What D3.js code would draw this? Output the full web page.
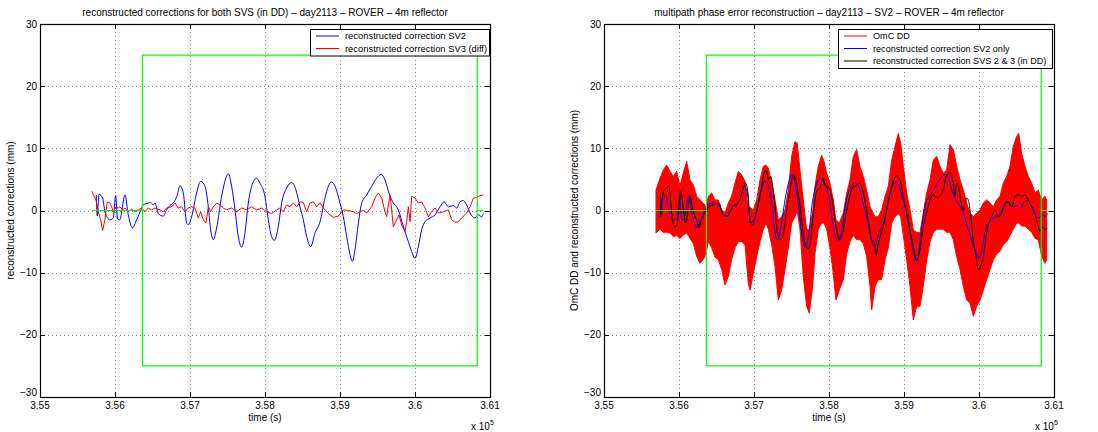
<!DOCTYPE html>
<html><head><meta charset="utf-8">
<script src="https://cdn.jsdelivr.net/npm/d3@7"></script>
<style>
body{margin:0;background:#fff;}
text{font-family:"Liberation Sans",Arial,Helvetica,sans-serif;font-size:10px;fill:#000;}
</style>
</head><body>
<svg id="c" width="1098" height="432"></svg>
<script>
// ---------- tick labels ----------
const xTicks = [355000, 356000, 357000, 358000, 359000, 360000, 361000];
const xTickLabels = ["3.55", "3.56", "3.57", "3.58", "3.59", "3.6", "3.61"];
const yTicks = [-30, -20, -10, 0, 10, 20, 30];
const yTickLabels = ["\u221230", "\u221220", "\u221210", "0", "10", "20", "30"];

// ---------- titles / labels ----------
const titles = ["reconstructed corrections for both SVS (in DD) \u2013 day2113 \u2013 ROVER \u2013 4m reflector",
                "multipath phase error reconstruction \u2013 day2113 \u2013 SV2 \u2013 ROVER \u2013 4m reflector"];
const yLabels = ["reconstructed corrections (mm)", "OmC DD and reconstructed corrections (mm)"];
const xLabel = "time (s)";
const legendLeft = ["reconstructed correction SV2", "reconstructed correction SV3 (diff)"];
const legendRight = ["OmC DD", "reconstructed correction SV2 only", "reconstructed correction SVS 2 & 3 (in DD)"];

// ---------- series: [time (s), value (mm)] ----------
const sv2 = [[355750,2.5],[355764,-0.9],[355786,2.6],[355835,2.0],[355866,-0.2],[355933,-1.5],[355977,-1.2],[356009,2.4],[356035,-1.4],[356066,-1.5],[356097,0.4],[356133,2.5],[356177,-0.7],[356235,-2.8],[356288,-1.5],[356346,0.1],[356377,0.9],[356444,1.2],[356475,1.3],[356511,0.9],[356533,1.2],[356577,-0.5],[356644,-0.9],[356688,0.1],[356733,0.8],[356777,1.2],[356831,2.5],[356866,4.0],[356911,2.8],[356955,-2.0],[356977,-2.3],[357022,-1.0],[357088,2.8],[357142,4.7],[357200,3.9],[357244,0.6],[357275,-3.1],[357311,-4.7],[357355,-2.8],[357422,2.3],[357466,4.7],[357511,5.9],[357555,3.9],[357600,0.1],[357644,-4.2],[357688,-5.9],[357733,-3.6],[357777,1.2],[357822,3.9],[357888,5.2],[357933,4.4],[357999,2.3],[358044,-1.5],[358088,-4.2],[358124,-4.8],[358177,-2.6],[358222,1.2],[358288,3.6],[358355,4.5],[358413,3.3],[358466,0.6],[358511,-1.5],[358556,-4.2],[358609,-5.8],[358667,-3.6],[358734,-1.8],[358800,2.0],[358845,3.9],[358889,4.6],[358934,3.9],[359000,1.2],[359045,-1.0],[359089,-4.2],[359134,-7.1],[359165,-8.2],[359200,-6.3],[359245,-2.0],[359289,1.2],[359356,2.5],[359422,3.9],[359489,5.2],[359547,5.8],[359600,4.9],[359645,3.1],[359702,1.4],[359778,0.1],[359845,-2.6],[359911,-5.0],[359956,-6.6],[360000,-7.7],[360045,-5.8],[360089,-3.1],[360134,-1.8],[360200,-1.2],[360267,-0.7],[360334,0.6],[360387,1.4],[360445,0.6],[360511,0.8],[360556,0.4],[360600,1.4],[360645,1.6],[360689,0.9],[360734,-0.4],[360800,-1.2],[360845,-0.7],[360889,-1.0],[360911,-0.5]];

const sv3 = [[355693,3.1],[355720,2.3],[355746,1.7],[355777,-0.2],[355809,-1.5],[355835,-3.2],[355866,-1.5],[355897,1.4],[355933,1.2],[355955,0.6],[355977,-0.2],[356013,0.6],[356044,0.4],[356066,0.6],[356102,0.1],[356133,0.4],[356177,-0.2],[356222,0.2],[356266,-0.2],[356311,0.1],[356355,0.4],[356400,-0.2],[356444,0.4],[356488,0.1],[356533,0.4],[356600,0.1],[356644,-0.2],[356688,0.4],[356755,0.6],[356800,1.2],[356844,0.4],[356888,0.6],[356933,-0.2],[356977,0.4],[357022,0.6],[357066,0.4],[357111,-1.2],[357142,-0.2],[357177,-1.5],[357213,-2.0],[357244,0.6],[357275,-0.2],[357311,0.6],[357355,1.2],[357400,0.9],[357444,0.4],[357488,0.1],[357555,0.4],[357622,-0.2],[357688,0.4],[357755,0.1],[357822,0.6],[357888,0.1],[357955,0.4],[358022,-0.2],[358088,-0.5],[358155,0.1],[358199,0.4],[358244,-0.2],[358288,0.9],[358333,0.6],[358377,1.2],[358422,0.6],[358466,1.4],[358511,1.3],[358556,-0.2],[358600,1.2],[358645,1.4],[358689,0.6],[358734,1.2],[358778,0.4],[358845,-0.5],[358911,-1.1],[358978,-0.9],[359045,0.1],[359111,0.0],[359178,-0.2],[359222,-0.5],[359267,-0.2],[359311,0.0],[359356,-0.4],[359422,0.6],[359467,2.0],[359511,2.8],[359556,2.0],[359600,-0.2],[359622,-1.0],[359645,0.9],[359667,2.5],[359689,0.1],[359711,-2.6],[359756,-1.5],[359787,-0.7],[359822,-2.3],[359867,-3.4],[359889,-1.8],[359911,0.6],[359934,-1.8],[359956,2.3],[360000,2.0],[360045,1.2],[360089,1.4],[360134,0.4],[360178,-1.0],[360222,-0.2],[360267,0.4],[360311,-0.4],[360378,-0.2],[360445,0.1],[360489,-1.5],[360534,-1.9],[360578,-1.8],[360622,-1.2],[360689,-0.4],[360734,0.6],[360778,2.0],[360822,2.1],[360867,2.4],[360911,2.5]];

const combined = [[355746,-1.0],[355800,3.3],[355835,3.6],[355857,4.0],[355880,2.8],[355902,-0.4],[355924,-2.3],[355960,-2.6],[355991,-1.0],[356022,3.3],[356044,1.7],[356071,-1.0],[356093,-2.0],[356115,-0.4],[356146,2.3],[356177,0.6],[356213,-1.0],[356235,-1.5],[356266,-2.8],[356302,-1.5],[356333,-0.7],[356368,0.1],[356413,0.8],[356457,0.9],[356502,1.2],[356546,0.6],[356591,-0.7],[356635,-1.0],[356680,-0.3],[356724,0.8],[356768,0.9],[356813,1.8],[356857,3.6],[356888,4.4],[356924,2.3],[356947,-2.0],[357014,-1.0],[357058,1.2],[357103,3.9],[357147,6.4],[357169,6.3],[357191,4.9],[357223,5.5],[357249,3.9],[357280,0.6],[357311,-3.6],[357347,-4.7],[357383,-4.2],[357436,0.1],[357480,3.3],[357525,5.7],[357560,4.9],[357591,2.5],[357622,0.1],[357658,-3.6],[357694,-5.8],[357725,-6.1],[357756,-4.7],[357791,-0.4],[357836,3.1],[357880,3.6],[357916,5.2],[357960,3.9],[358005,3.6],[358049,1.2],[358094,-2.6],[358138,-4.7],[358182,-3.6],[358236,0.1],[358280,2.5],[358324,3.8],[358369,4.0],[358404,4.4],[358449,3.3],[358493,0.6],[358538,-2.6],[358569,-4.7],[358600,-5.0],[358627,-7.1],[358658,-5.3],[358689,-3.9],[358724,-2.6],[358769,0.1],[358813,2.8],[358858,4.7],[358902,5.6],[358947,4.9],[358991,2.3],[359035,-0.4],[359080,-3.1],[359124,-5.8],[359169,-8.0],[359213,-6.3],[359258,-2.6],[359302,-0.4],[359347,1.7],[359391,2.5],[359436,2.0],[359480,2.3],[359524,3.3],[359569,5.7],[359613,6.1],[359657,4.4],[359680,2.3],[359702,4.4],[359724,3.9],[359746,2.3],[359791,0.1],[359835,2.0],[359857,1.7],[359880,0.1],[359924,-4.7],[359960,-7.4],[359991,-9.5],[360022,-9.0],[360057,-7.4],[360102,-3.6],[360146,-1.5],[360182,-0.7],[360213,0.1],[360257,-1.0],[360302,-0.4],[360346,1.2],[360391,1.4],[360435,0.6],[360480,2.3],[360524,2.5],[360568,2.3],[360613,2.5],[360657,1.7],[360702,0.6],[360746,-0.4],[360791,-2.6],[360813,-3.4],[360848,-2.6],[360880,-3.1],[360911,-2.8]];

// OmC DD (noisy): [time, upper envelope, lower envelope]
const omc = [[355693,3.3,-3.6],[355747,5.2,-3.0],[355791,6.5,-3.5],[355836,7.3,-3.5],[355880,6.3,-3.6],[355924,5.5,-4.2],[355969,6.3,-4.0],[356013,3.9,-4.5],[356057,6.0,-3.9],[356102,7.9,-3.6],[356124,6.5,-4.0],[356147,4.9,-4.5],[356191,4.1,-5.3],[356236,2.3,-7.4],[356280,1.7,-8.5],[356324,1.2,-7.9],[356360,0.6,-6.9],[356391,2.3,-5.0],[356436,2.8,-6.0],[356480,1.7,-7.5],[356524,1.7,-7.9],[356569,0.1,-9.5],[356613,-0.4,-12.0],[356657,1.2,-10.6],[356702,2.3,-7.9],[356747,4.4,-6.0],[356791,6.3,-5.0],[356836,5.7,-5.0],[356880,4.7,-5.5],[356924,0.1,-11.7],[356947,0.5,-12.8],[356991,0.1,-10.1],[357036,1.7,-7.4],[357080,4.9,-5.0],[357124,7.1,-3.0],[357160,7.3,-2.0],[357191,6.8,-3.0],[357236,4.4,-5.5],[357280,1.7,-9.0],[357324,-1.5,-14.4],[357369,-1.0,-12.8],[357413,0.1,-9.5],[357457,3.3,-6.0],[357502,8.7,-2.0],[357547,11.1,-1.0],[357577,10.8,0.0],[357613,6.5,-3.0],[357657,1.7,-10.6],[357702,-3.1,-15.4],[357737,-3.0,-16.5],[357782,-0.4,-12.2],[357813,3.9,-7.0],[357857,7.1,-3.0],[357902,8.9,-2.0],[357933,7.9,-2.0],[357969,6.0,-3.0],[358013,4.4,-6.0],[358057,1.7,-10.1],[358093,-1.5,-14.4],[358137,-2.0,-12.8],[358191,-0.4,-11.1],[358236,2.8,-6.9],[358280,4.9,-5.0],[358324,8.7,-4.0],[358369,9.8,-4.7],[358413,7.1,-4.7],[358457,5.5,-5.3],[358502,3.3,-7.4],[358547,0.6,-12.2],[358569,0.1,-16.0],[358613,-1.0,-12.2],[358657,-1.0,-11.1],[358702,0.1,-11.1],[358747,2.3,-7.9],[358791,3.9,-6.0],[358836,8.1,-2.0],[358880,10.3,-1.0],[358924,12.4,-0.5],[358956,10.8,-1.0],[358991,7.1,-4.0],[359036,2.8,-8.0],[359080,0.1,-12.2],[359124,-3.1,-17.6],[359169,-3.5,-15.4],[359213,-3.6,-15.4],[359257,-0.4,-12.2],[359302,2.8,-8.0],[359347,4.9,-5.0],[359391,8.1,-3.5],[359436,8.7,-3.0],[359480,7.1,-3.0],[359524,6.0,-3.0],[359569,6.5,-3.5],[359613,10.6,-3.5],[359658,9.8,-4.7],[359702,7.1,-7.4],[359747,4.9,-9.5],[359791,3.3,-12.2],[359836,1.2,-14.4],[359880,-0.4,-14.9],[359924,-1.0,-17.0],[359969,-0.4,-15.4],[360013,0.1,-14.4],[360057,1.2,-12.8],[360102,1.7,-11.1],[360147,1.2,-9.5],[360191,0.6,-7.9],[360236,1.7,-7.0],[360280,2.3,-6.5],[360324,4.4,-5.5],[360369,5.5,-5.0],[360413,7.1,-4.0],[360457,10.3,-3.0],[360502,11.9,-2.0],[360529,12.4,-2.0],[360569,9.2,-2.5],[360613,7.1,-2.5],[360657,5.5,-3.0],[360702,4.4,-3.5],[360747,2.8,-4.5],[360791,3.3,-4.7],[360836,1.7,-7.4],[360880,2.3,-8.5],[360902,1.7,-7.9]];

// green reference window (zero line outside, +-25 mm box inside)
const refWindow = [[355693,0],[356365,0],[356365,25],[360830,25],[360830,0],[360911,0],[360830,0],[360830,-25],[356365,-25],[356365,0]];

// ---------- drawing ----------
const svg = d3.select("#c");
const TOP = 24, BOT = 397;
const panels = [{L: 40, R: 490}, {L: 604, R: 1054}];

function drawFrame(p, idx) {
  const g = svg.append("g");
  const x = d3.scaleLinear().domain([355000, 361000]).range([p.L, p.R]);
  const y = d3.scaleLinear().domain([-30, 30]).range([BOT, TOP]);
  g.selectAll(".gx").data(xTicks.slice(1, -1)).enter().append("line")
    .attr("x1", d => Math.round(x(d)) + 0.5).attr("x2", d => Math.round(x(d)) + 0.5)
    .attr("y1", TOP).attr("y2", BOT)
    .attr("stroke", "#8a8a8a").attr("stroke-width", 1).attr("stroke-dasharray", "1,3");
  g.selectAll(".gy").data(yTicks.slice(1, -1)).enter().append("line")
    .attr("y1", d => Math.round(y(d)) + 0.5).attr("y2", d => Math.round(y(d)) + 0.5)
    .attr("x1", p.L).attr("x2", p.R)
    .attr("stroke", "#8a8a8a").attr("stroke-width", 1).attr("stroke-dasharray", "1,3");
  g.selectAll(".xl").data(xTicks).enter().append("text")
    .attr("x", d => x(d)).attr("y", BOT + 11.5).attr("text-anchor", "middle")
    .text((d, i) => xTickLabels[i]);
  g.selectAll(".yl").data(yTicks).enter().append("text")
    .attr("x", p.L - 3).attr("y", d => y(d) + 3.5 - (d === -30 ? 5 : 0)).attr("text-anchor", "end")
    .text((d, i) => yTickLabels[i]);
  g.append("text").attr("x", (p.L + p.R) / 2).attr("y", 16).attr("text-anchor", "middle").text(titles[idx]);
  g.append("text").attr("x", (p.L + p.R) / 2).attr("y", 420.5).attr("text-anchor", "middle").text(xLabel);
  g.append("text").attr("transform", `translate(${p.L - 26},${(TOP + BOT) / 2}) rotate(-90)`)
    .attr("text-anchor", "middle").text(yLabels[idx]);
  const ex = g.append("text").attr("x", p.R - 19).attr("y", 429.5);
  ex.append("tspan").text("x 10");
  ex.append("tspan").attr("dy", -5).attr("font-size", "7px").text("5");
  return {g, x, y};
}

function drawBox(g, x, y, p) {
  const tl = 5;
  const tk = g.append("g").attr("stroke", "#000").attr("stroke-width", 1);
  xTicks.forEach(t => {
    const xx = Math.round(x(t)) + 0.5;
    tk.append("line").attr("x1", xx).attr("x2", xx).attr("y1", BOT).attr("y2", BOT - tl);
    tk.append("line").attr("x1", xx).attr("x2", xx).attr("y1", TOP).attr("y2", TOP + tl);
  });
  yTicks.forEach(t => {
    const yy = Math.round(y(t)) + 0.5;
    tk.append("line").attr("y1", yy).attr("y2", yy).attr("x1", p.L).attr("x2", p.L + tl);
    tk.append("line").attr("y1", yy).attr("y2", yy).attr("x1", p.R).attr("x2", p.R - tl);
  });
  g.append("rect").attr("x", p.L + 0.5).attr("y", TOP + 0.5).attr("width", p.R - p.L).attr("height", BOT - TOP)
    .attr("fill", "none").attr("stroke", "#000").attr("stroke-width", 1.2);
}

function drawLegend(g, labels, colors, boxLeft, topY, boxRight, fs) {
  const rowH = 12.5;
  const lg = g.append("g");
  lg.append("rect").attr("x", boxLeft + 0.5).attr("y", topY + 0.5)
    .attr("width", boxRight - boxLeft).attr("height", labels.length * rowH + 1.5)
    .attr("fill", "#fff").attr("stroke", "#000").attr("stroke-width", 1);
  labels.forEach((lab, i) => {
    const cy = topY + 7 + i * rowH;
    lg.append("text").attr("x", boxLeft + 35).attr("y", cy + 3.3).style("font-size", fs).text(lab);
    lg.append("line").attr("x1", boxLeft + 6).attr("x2", boxLeft + 29).attr("y1", cy).attr("y2", cy)
      .attr("stroke", colors[i]).attr("stroke-width", 1);
  });
}

// Left panel
{
  const p = panels[0];
  const {g, x, y} = drawFrame(p, 0);
  const line = d3.line().x(d => x(d[0])).y(d => y(d[1]));
  const smooth = d3.line().curve(d3.curveMonotoneX).x(d => x(d[0])).y(d => y(d[1]));
  g.append("path").datum(sv2).attr("d", smooth).attr("fill", "none").attr("stroke", "#0000ff").attr("stroke-width", 1);
  g.append("path").datum(sv3).attr("d", line).attr("fill", "none").attr("stroke", "#ff0000").attr("stroke-width", 1);
  g.append("path").datum(refWindow).attr("d", line).attr("fill", "none").attr("stroke", "#00ff00").attr("stroke-width", 1.2);
  drawBox(g, x, y, p);
  drawLegend(g, legendLeft, ["#0000ff", "#ff0000"], 310, 29, 489, "9.4px");
}
// Right panel
{
  const p = panels[1];
  const {g, x, y} = drawFrame(p, 1);
  const line = d3.line().x(d => x(d[0])).y(d => y(d[1]));
  const smooth = d3.line().curve(d3.curveMonotoneX).x(d => x(d[0])).y(d => y(d[1]));
  const area = d3.area().x(d => x(d[0])).y0(d => y(d[2])).y1(d => y(d[1]));
  g.append("path").datum(omc).attr("d", area).attr("fill", "#ff0000").attr("stroke", "#ff0000").attr("stroke-width", 1);
  g.append("path").datum(sv2).attr("d", smooth).attr("fill", "none").attr("stroke", "#0000ff").attr("stroke-width", 1);
  g.append("path").datum(combined).attr("d", smooth).attr("fill", "none").attr("stroke", "#000").attr("stroke-width", 1);
  g.append("path").datum(refWindow).attr("d", line).attr("fill", "none").attr("stroke", "#00ff00").attr("stroke-width", 1.2);
  drawBox(g, x, y, p);
  drawLegend(g, legendRight, ["#ff0000", "#0000ff", "#000000"], 838, 29, 1052, "9.1px");
}
</script>
</body></html>
